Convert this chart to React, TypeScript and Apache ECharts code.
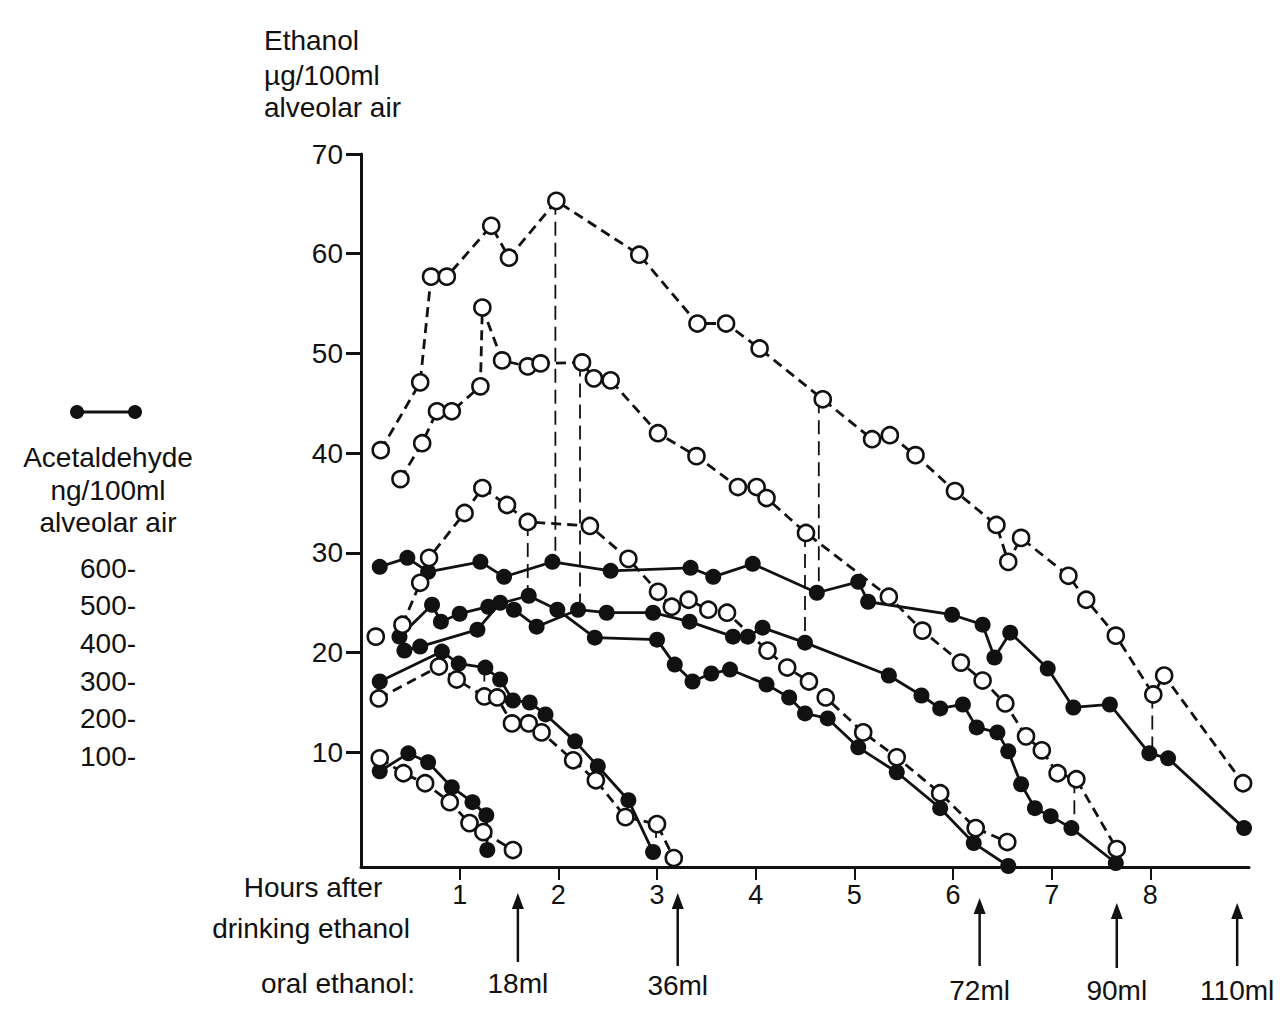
import React, { useEffect, useRef } from "react";
import * as echarts from "echarts";

// ---- Data: [hours after drinking, value on ethanol scale] ----
const ethanol110 = [
  [0.2, 40.3], [0.6, 47.1], [0.71, 57.7], [0.87, 57.7], [1.32, 62.8], [1.5, 59.6],
  [1.98, 65.3], [2.82, 59.9], [3.41, 53.0], [3.7, 53.0], [4.04, 50.5], [4.68, 45.4],
  [5.18, 41.4], [5.36, 41.8], [5.62, 39.8], [6.02, 36.2], [6.44, 32.8], [6.56, 29.1],
  [6.69, 31.5], [7.17, 27.7], [7.35, 25.3], [7.65, 21.7], [8.03, 15.8], [8.14, 17.7],
  [8.94, 6.9],
];
const ethanol90 = [
  [0.4, 37.4], [0.62, 41.0], [0.77, 44.2], [0.92, 44.2], [1.21, 46.7], [1.23, 54.6],
  [1.43, 49.3], [1.69, 48.7], [1.82, 49.0], [2.24, 49.1], [2.36, 47.5], [2.53, 47.3],
  [3.01, 42.0], [3.4, 39.7], [3.82, 36.6], [4.01, 36.6], [4.11, 35.5], [4.51, 32.0],
  [5.35, 25.6], [5.69, 22.2], [6.08, 19.0], [6.3, 17.2], [6.53, 14.9], [6.74, 11.6],
  [6.9, 10.2], [7.06, 7.9], [7.25, 7.3], [7.66, 0.3],
];
const ethanol72 = [
  [0.42, 22.8], [0.6, 27.0], [0.69, 29.5], [1.05, 34.0], [1.23, 36.5], [1.48, 34.8],
  [1.69, 33.1], [2.32, 32.7], [2.71, 29.4], [3.01, 26.1], [3.15, 24.6], [3.32, 25.3],
  [3.52, 24.3], [3.71, 24.0], [4.12, 20.2], [4.32, 18.5], [4.54, 17.1], [4.71, 15.5],
  [5.09, 12.0], [5.43, 9.5], [5.87, 5.9], [6.23, 2.4], [6.55, 1.0],
];
const ethanolSingle = [[0.15, 21.6]];
const ethanol36 = [
  [0.18, 15.4], [0.79, 18.6], [0.97, 17.3], [1.25, 15.6], [1.38, 15.5], [1.53, 12.9],
  [1.7, 12.9], [1.83, 12.0], [2.15, 9.2], [2.38, 7.2], [2.68, 3.5], [3.0, 2.8],
  [3.17, -0.6],
];
const ethanol18 = [
  [0.19, 9.4], [0.43, 7.9], [0.65, 6.9], [0.9, 5.0], [1.1, 2.9], [1.24, 2.0], [1.54, 0.2],
];

const acet110 = [
  [0.19, 28.6], [0.47, 29.5], [0.68, 28.1], [1.21, 29.1], [1.45, 27.6], [1.94, 29.1],
  [2.53, 28.2], [3.34, 28.5], [3.57, 27.6], [3.97, 28.9], [4.62, 26.0], [5.04, 27.1],
  [5.14, 25.1], [5.99, 23.8], [6.3, 22.8], [6.42, 19.5], [6.58, 22.0], [6.96, 18.4],
  [7.22, 14.5], [7.59, 14.8], [7.99, 9.9], [8.18, 9.4], [8.95, 2.4],
];
const acet90 = [
  [0.44, 20.2], [0.6, 20.6], [1.18, 22.3], [1.41, 25.0], [1.55, 24.3], [1.78, 22.6],
  [2.2, 24.3], [2.49, 24.0], [2.96, 24.0], [3.33, 23.1], [3.77, 21.6], [3.92, 21.6],
  [4.07, 22.5], [4.5, 21.0], [5.35, 17.7], [5.68, 15.7], [5.87, 14.4], [6.1, 14.8],
  [6.24, 12.5], [6.45, 12.0], [6.56, 10.1], [6.69, 6.8], [6.83, 4.4], [6.99, 3.6],
  [7.2, 2.4], [7.65, -1.1],
];
const acet72 = [
  [0.39, 21.6], [0.72, 24.8], [0.81, 23.1], [1.0, 23.9], [1.29, 24.6], [1.7, 25.7],
  [1.99, 24.3], [2.37, 21.5], [3.0, 21.3], [3.18, 18.8], [3.36, 17.1], [3.55, 17.9],
  [3.74, 18.3], [4.11, 16.8], [4.34, 15.5], [4.5, 13.9], [4.73, 13.4], [5.04, 10.5],
  [5.43, 8.0], [5.87, 4.4], [6.21, 0.9], [6.56, -1.4],
];
const acet36 = [
  [0.19, 17.1], [0.82, 20.1], [0.99, 18.9], [1.26, 18.5], [1.41, 17.3], [1.54, 15.2],
  [1.71, 15.0], [1.87, 13.8], [2.17, 11.1], [2.4, 8.6], [2.71, 5.2], [2.96, 0.0],
];
const acet18 = [
  [0.19, 8.1], [0.48, 9.9], [0.68, 9.0], [0.92, 6.5], [1.13, 5.0], [1.27, 3.7], [1.28, 0.2],
];

// vertical connectors: [hours, from, to]
const connectors = [
  [1.97, 65.3, 29.1], [2.22, 49.1, 24.3], [1.69, 33.1, 25.7], [4.64, 45.4, 26.0],
  [4.5, 32.0, 21.0], [1.25, 18.5, 15.6], [2.99, 2.8, 0.0], [7.23, 7.3, 2.4],
  [8.02, 15.8, 9.9],
];

const yTicks = [10, 20, 30, 40, 50, 60, 70];
const xTicks = [1, 2, 3, 4, 5, 6, 7, 8];
const doseHours = [1.59, 3.21, 6.27, 7.66, 8.88];
const doseLabels = ["18ml", "36ml", "72ml", "90ml", "110ml"];
const acetScaleLabels = ["600-", "500-", "400-", "300-", "200-", "100-"];

// layout (pixel) helpers for annotations
const arrowTipY = [893, 893, 898, 903, 903];
const arrowBaseY = [962, 966, 966, 968, 966];
const doseLabelY = [983, 985, 990, 990, 990];
const acetScaleY = [568, 605, 643, 681, 718, 756];

const FONT = "'Liberation Sans', Arial, Helvetica, sans-serif";
const INK = "#111";

export default function App() {
  const ref = useRef<HTMLDivElement>(null);
  useEffect(() => {
    if (!ref.current) return;
    const chart = echarts.init(ref.current, undefined, { renderer: "svg" });

    const openS = (data: number[][], name: string) => ({
      name, type: "line", data, symbol: "circle", symbolSize: 16, showAllSymbol: true,
      clip: false, z: 4, silent: true,
      lineStyle: { color: INK, width: 2.8, type: [10, 6] },
      itemStyle: { color: "#fff", borderColor: INK, borderWidth: 2.6, opacity: 1 },
    });
    const filledS = (data: number[][], name: string) => ({
      name, type: "line", data, symbol: "circle", symbolSize: 16, showAllSymbol: true,
      clip: false, z: 3, silent: true,
      lineStyle: { color: INK, width: 2.8 },
      itemStyle: { color: INK, opacity: 1 },
    });
    const connS = connectors.map((c, i) => ({
      name: "conn" + i, type: "line", data: [[c[0], c[1]], [c[0], c[2]]],
      symbol: "none", clip: false, z: 1, silent: true,
      lineStyle: { color: INK, width: 1.8, type: [14, 7] },
    }));

    const option: any = {
      animation: false,
      backgroundColor: "#fff",
      grid: { left: 361, right: 34, top: 154, bottom: 144, containLabel: false },
      xAxis: {
        type: "value", min: 0, max: 9,
        axisLine: { onZero: false, lineStyle: { color: INK, width: 3 } },
        axisTick: { show: true, length: 13, customValues: xTicks, lineStyle: { color: INK, width: 2 } },
        axisLabel: { customValues: xTicks, color: INK, fontSize: 27, fontFamily: FONT, margin: 14 },
        splitLine: { show: false },
      },
      yAxis: {
        type: "value", min: -1.5, max: 70,
        axisLine: { show: true, onZero: false, lineStyle: { color: INK, width: 3 } },
        axisTick: { show: true, length: 15, customValues: yTicks, lineStyle: { color: INK, width: 3 } },
        axisLabel: { customValues: yTicks, color: INK, fontSize: 28, fontFamily: FONT, margin: 18 },
        splitLine: { show: false },
      },
      series: [
        ...connS,
        filledS(acet110, "acet110"), filledS(acet90, "acet90"), filledS(acet72, "acet72"),
        filledS(acet36, "acet36"), filledS(acet18, "acet18"),
        openS(ethanol110, "eth110"), openS(ethanol90, "eth90"), openS(ethanol72, "eth72"),
        openS(ethanol36, "eth36"), openS(ethanol18, "eth18"),
        {
          name: "ethSingle", type: "scatter", data: ethanolSingle, symbol: "circle", symbolSize: 16,
          z: 4, silent: true, itemStyle: { color: "#fff", borderColor: INK, borderWidth: 2.6, opacity: 1 },
        },
      ],
    };
    chart.setOption(option);

    const txt = (text: string, x: number, y: number, align = "center", size = 28) => ({
      type: "text", x, y,
      style: { text, fill: INK, font: `${size}px ${FONT}`, textAlign: align, textVerticalAlign: "middle" },
    });

    const g: any[] = [
      txt("Ethanol", 264, 40, "left"),
      txt("µg/100ml", 264, 75, "left"),
      txt("alveolar air", 264, 107, "left"),
      { type: "line", shape: { x1: 77, y1: 412, x2: 135, y2: 412 }, style: { stroke: INK, lineWidth: 3 } },
      { type: "circle", shape: { cx: 77, cy: 412, r: 7 }, style: { fill: INK } },
      { type: "circle", shape: { cx: 135, cy: 412, r: 7 }, style: { fill: INK } },
      txt("Acetaldehyde", 108, 457),
      txt("ng/100ml", 108, 490),
      txt("alveolar air", 108, 522),
      ...acetScaleLabels.map((s, i) => txt(s, 108, acetScaleY[i])),
      txt("Hours after", 313, 887),
      txt("drinking ethanol", 311, 928),
      txt("oral ethanol:", 338, 983),
    ];
    doseHours.forEach((h, i) => {
      const x = chart.convertToPixel({ xAxisIndex: 0 }, h) as number;
      g.push({ type: "line", shape: { x1: x, y1: arrowBaseY[i], x2: x, y2: arrowTipY[i] + 12 }, style: { stroke: INK, lineWidth: 2.5 } });
      g.push({ type: "polygon", shape: { points: [[x - 6, arrowTipY[i] + 16], [x + 6, arrowTipY[i] + 16], [x, arrowTipY[i]]] }, style: { fill: INK } });
      g.push(txt(doseLabels[i], x, doseLabelY[i]));
    });
    chart.setOption({ graphic: g });

    return () => chart.dispose();
  }, []);
  return <div ref={ref} style={{ width: 1283, height: 1011, margin: -8 }} />;
}
